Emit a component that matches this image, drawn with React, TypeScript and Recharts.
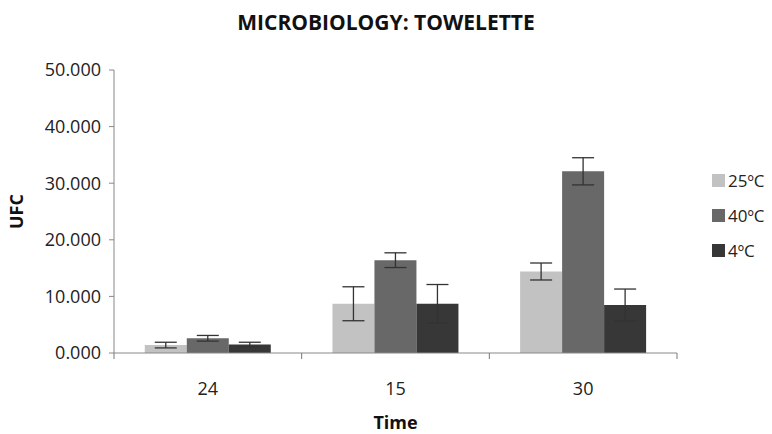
import React from 'react'
import { BarChart, Bar, XAxis, YAxis, ErrorBar } from 'recharts'

const times = ['24', '15', '30']
const ufc25 = [1.4, 8.7, 14.4]
const err25 = [0.5, 3.0, 1.5]
const ufc40 = [2.6, 16.4, 32.1]
const err40 = [0.5, 1.3, 2.4]
const ufc4 = [1.5, 8.7, 8.5]
const err4 = [0.4, 3.4, 2.8]
const yTicks = [0, 10, 20, 30, 40, 50]

const SERIES = [
  { key: 'v25', err: 'e25', name: '25ºC', color: '#c2c2c2' },
  { key: 'v40', err: 'e40', name: '40ºC', color: '#686868' },
  { key: 'v4', err: 'e4', name: '4ºC', color: '#373737' },
]

const FONT = '"Open Sans", "DejaVu Sans", sans-serif'

const data = times.map((time, i) => ({
  time,
  v25: ufc25[i],
  e25: err25[i],
  v40: ufc40[i],
  e40: err40[i],
  v4: ufc4[i],
  e4: err4[i],
}))

// category label plus Excel-style tick marks on the category boundaries
const TimeTick = (props: any) => {
  const { x, y, payload, index, visibleTicksCount } = props
  const half = payload.offset || 0
  const left = x - half
  const right = x + half
  return (
    <g>
      <line x1={left} x2={left} y1={y - 6} y2={y} stroke="#777" />
      {index === visibleTicksCount - 1 && <line x1={right} x2={right} y1={y - 6} y2={y} stroke="#777" />}
      <text x={x} y={y + 36} textAnchor="middle" fill="#222" fontSize={18} fontFamily={FONT}>
        {payload.value}
      </text>
    </g>
  )
}

export default function App() {
  return (
    <div
      style={{
        margin: '-8px 0 0 -8px',
        width: 772,
        height: 434,
        background: '#fff',
        position: 'relative',
        overflow: 'hidden',
        fontFamily: FONT,
      }}
    >
      <div
        style={{
          position: 'absolute',
          top: 8,
          left: 0,
          width: 772,
          textAlign: 'center',
          fontWeight: 700,
          fontSize: 21,
          color: '#111',
        }}
      >
        MICROBIOLOGY: TOWELETTE
      </div>
      <div style={{ position: 'absolute', left: 712, top: 163, fontSize: 17, color: '#222' }}>
        {SERIES.map((s) => (
          <div key={s.key} style={{ display: 'flex', alignItems: 'center', height: 35 }}>
            <span style={{ width: 13, height: 13, background: s.color, marginRight: 3 }} />
            <span>{s.name}</span>
          </div>
        ))}
      </div>
      <BarChart
        width={772}
        height={434}
        data={data}
        margin={{ top: 70, right: 95, bottom: 0, left: 0 }}
        barCategoryGap="16.4%"
        barGap={0}
      >
        <XAxis
          dataKey="time"
          height={81}
          axisLine={{ stroke: '#888' }}
          tickLine={false}
          tickSize={6}
          tickMargin={0}
          tick={<TimeTick />}
          label={{
            content: ({ viewBox }: any) => (
              <text
                x={viewBox.x + viewBox.width / 2}
                y={429}
                textAnchor="middle"
                fill="#111"
                fontSize={18}
                fontWeight={700}
                fontFamily={FONT}
              >
                Time
              </text>
            ),
          }}
        />
        <YAxis
          width={114}
          domain={[0, 50]}
          ticks={yTicks}
          tickFormatter={(v: number) => v.toFixed(3)}
          axisLine={{ stroke: '#888' }}
          tickLine={{ stroke: '#888' }}
          tickSize={5}
          tickMargin={8}
          tick={{ fill: '#222', fontSize: 18, fontFamily: FONT }}
          label={{
            content: ({ viewBox }: any) => (
              <text
                x={0}
                y={0}
                transform={`translate(23, ${viewBox.y + viewBox.height / 2}) rotate(-90)`}
                textAnchor="middle"
                fill="#111"
                fontSize={18}
                fontWeight={700}
                fontFamily={FONT}
              >
                UFC
              </text>
            ),
          }}
        />
        {SERIES.map((s) => (
          <Bar key={s.key} dataKey={s.key} name={s.name} fill={s.color} isAnimationActive={false}>
            <ErrorBar dataKey={s.err} width={11} stroke="#333" strokeWidth={1.3} />
          </Bar>
        ))}
      </BarChart>
    </div>
  )
}
